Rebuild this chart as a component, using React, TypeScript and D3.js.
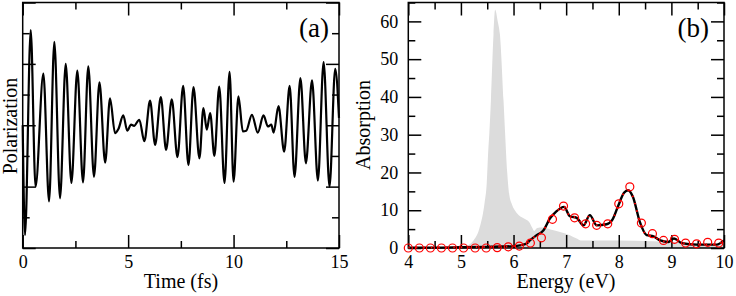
import React, { useEffect, useRef } from "react";
import * as d3 from "d3";

// panel (a): polarization, extrema (time in fs, arbitrary units)
const timeTicks = [0, 5, 10, 15];
const timeMinor = [2.5, 7.5, 12.5];
const polTicks = [-2, -1, 0, 1, 2];
const polMinor = [-1.5, -0.5, 0.5, 1.5];
const polT = [0, 0.11, 0.38, 0.61, 0.98, 1.25, 1.5, 1.77, 2.04, 2.31, 2.59, 2.86, 3.11, 3.38, 3.64, 3.91,
  4.14, 4.38, 4.54, 4.77, 4.96, 5.14, 5.28, 5.53, 5.77, 6.04, 6.28, 6.55, 6.8, 7.07, 7.34, 7.61, 7.86,
  8.1, 8.38, 8.57, 8.73, 8.89, 9.09, 9.32, 9.57, 9.81, 10.0, 10.23, 10.44, 10.6, 10.87, 11.15, 11.42,
  11.63, 11.79, 11.9, 12.13, 12.4, 12.66, 12.89, 13.17, 13.43, 13.72, 14.0, 14.27, 14.55, 14.82, 15.0];
const polV = [0, -1.79, 1.55, -1.0, 0.84, -1.24, 1.36, -1.19, 1.0, -0.94, 0.89, -0.93, 0.96, -0.84, 0.7, -0.61,
  0.44, -0.13, -0.06, 0.16, -0.09, 0.01, -0.01, 0.09, -0.26, 0.4, -0.32, 0.46, -0.4, 0.42, -0.52, 0.64, -0.65,
  0.62, -0.54, 0.28, -0.07, 0.2, -0.5, 0.63, -0.94, 0.87, -0.92, 0.47, -0.1, -0.09, 0.17, -0.12, 0.16,
  -0.02, 0.01, -0.12, 0.31, -0.43, 0.64, -0.84, 0.77, -0.62, 0.73, -0.9, 1.03, -1.0, 0.92, 0.12];

// panel (b): absorption spectra
const energyTicks = [4, 5, 6, 7, 8, 9, 10];
const energyMinor = [4.5, 5.5, 6.5, 7.5, 8.5, 9.5];
const absTicks = [0, 10, 20, 30, 40, 50, 60];
const absMinor = [5, 15, 25, 35, 45, 55, 65];

const shadeE = [4.0, 4.9, 5.05, 5.24, 5.36, 5.45, 5.49, 5.52, 5.54, 5.57, 5.62, 5.65, 5.7, 5.74, 5.81, 5.84,
  5.88, 5.92, 5.97, 6.06, 6.2, 6.3, 6.36, 6.39, 6.45, 6.55, 6.7, 6.9, 7.07, 7.2, 7.28, 7.7, 8.3, 9.0, 9.6, 10.0];
const shadeA = [0, 0, 0.3, 2.0, 5.6, 12, 17, 25.9, 30.3, 39, 56.7, 63.1, 60, 56.7, 39, 30.3,
  20, 14, 11.5, 9.3, 7.8, 6.8, 5.2, 4.5, 5.3, 5.4, 4.9, 4.2, 3.4, 2.5, 2.0, 2.0, 1.9, 1.6, 1.1, 1.0];

const lineE = [4.0, 4.5, 5.0, 5.5, 5.8, 6.0, 6.12, 6.25, 6.31, 6.44, 6.57, 6.69, 6.8, 6.96, 7.07, 7.2, 7.33,
  7.45, 7.58, 7.77, 7.88, 7.99, 8.1, 8.18, 8.27, 8.4, 8.53, 8.66, 8.79, 8.94, 9.05, 9.2, 9.48, 9.86, 10.0];
const lineA = [0.1, 0.1, 0.2, 0.3, 0.4, 0.5, 0.7, 1.2, 2.0, 3.4, 4.7, 7.8, 9.5, 10.9, 8.4, 8.0, 6.0,
  8.7, 6.0, 6.3, 7.5, 11.2, 14.6, 15.3, 13.5, 6.9, 3.4, 3.1, 2.0, 1.6, 2.5, 1.3, 0.9, 0.9, 2.0];

const circE = [4.0, 4.21, 4.42, 4.63, 4.84, 5.05, 5.27, 5.48, 5.69, 5.9, 6.11, 6.32, 6.53, 6.74, 6.95, 7.16,
  7.37, 7.58, 7.79, 8.0, 8.21, 8.43, 8.64, 8.85, 9.06, 9.27, 9.48, 9.69, 9.9];
const circA = [0, 0, 0, 0, 0, 0, 0, 0, 0.1, 0.3, 0.5, 1.3, 2.7, 7.6, 11.1, 8.0,
  6.4, 6.0, 6.4, 11.7, 16.2, 6.6, 3.8, 2.0, 2.3, 1.3, 1.1, 1.5, 1.3];

const font = "'Liberation Serif', 'DejaVu Serif', 'Times New Roman', serif";

function drawAxes(g: any, x: any, y: any, xMaj: number[], xMin: number[], yMaj: number[], yMin: number[],
  xFmt: (d: any) => string, yFmt: (d: any) => string) {
  const [x0, x1] = x.range();
  const [y0, y1] = y.range();
  const none = () => "";
  const put = (axis: any, tr: string, vals: number[], size: number, fmt: any, pad: number) => {
    const a = g.append("g").attr("transform", tr)
      .call(axis.tickValues(vals).tickSize(size).tickSizeOuter(0).tickPadding(pad).tickFormat(fmt));
    a.select(".domain").remove();
    a.selectAll("line").attr("stroke", "#000").attr("stroke-width", 1.5);
    a.attr("font-family", font).attr("font-size", 18);
    a.selectAll("text").attr("fill", "#000");
  };
  put(d3.axisBottom(x), `translate(0,${y0})`, xMaj, -13, xFmt, 7);
  put(d3.axisBottom(x), `translate(0,${y0})`, xMin, -7, none, 7);
  put(d3.axisTop(x), `translate(0,${y1})`, xMaj, -13, none, 8);
  put(d3.axisTop(x), `translate(0,${y1})`, xMin, -7, none, 8);
  put(d3.axisLeft(y), `translate(${x0},0)`, yMaj, -13, yFmt, 10);
  put(d3.axisLeft(y), `translate(${x0},0)`, yMin, -7, none, 10);
  put(d3.axisRight(y), `translate(${x1},0)`, yMaj, -13, none, 10);
  put(d3.axisRight(y), `translate(${x1},0)`, yMin, -7, none, 10);
  g.append("rect").attr("x", x0).attr("y", y1).attr("width", x1 - x0).attr("height", y0 - y1)
    .attr("fill", "none").attr("stroke", "#000").attr("stroke-width", 1.5);
}

function label(g: any, txt: string, x: number, y: number, size: number, anchor: string, rot = false) {
  const t = g.append("text").attr("font-family", font).attr("font-size", size)
    .attr("text-anchor", anchor).attr("fill", "#000").text(txt);
  if (rot) t.attr("transform", `translate(${x},${y}) rotate(-90)`);
  else t.attr("x", x).attr("y", y);
}

export default function App() {
  const ref = useRef<SVGSVGElement>(null);

  useEffect(() => {
    const svg = d3.select(ref.current);
    svg.selectAll("*").remove();

    // (a)
    const xa = d3.scaleLinear().domain([0, 15]).range([22.7, 339]);
    const ya = d3.scaleLinear().domain([-2, 2]).range([248, 2.5]);
    const ga = svg.append("g");
    drawAxes(ga, xa, ya, timeTicks, timeMinor, polTicks, polMinor, (d) => String(d), () => "");
    const pol = d3.line<number>().x((d, i) => xa(polT[i])).y((d) => ya(d)).curve(d3.curveMonotoneX);
    ga.append("path").attr("d", pol(polV)).attr("fill", "none").attr("stroke", "#000").attr("stroke-width", 2.2);
    label(ga, "Time (fs)", 181, 288, 20, "middle");
    label(ga, "Polarization", 16.5, 126, 20, "middle", true);
    label(ga, "(a)", 329, 37, 27, "end");

    // (b)
    const xb = d3.scaleLinear().domain([4, 10]).range([408.3, 724]);
    const yb = d3.scaleLinear().domain([0, 65]).range([248, 2.5]);
    const gb = svg.append("g");
    const shade = d3.area<number>().x((d, i) => xb(shadeE[i])).y0(yb(0)).y1((d) => yb(d)).curve(d3.curveMonotoneX);
    gb.append("path").attr("d", shade(shadeA)).attr("fill", "#dcdcdc");
    drawAxes(gb, xb, yb, energyTicks, energyMinor, absTicks, absMinor, (d) => String(d), (d) => String(d));
    const spec = d3.line<number>().x((d, i) => xb(lineE[i])).y((d) => yb(d)).curve(d3.curveMonotoneX);
    gb.append("path").attr("d", spec(lineA)).attr("fill", "none").attr("stroke", "#000").attr("stroke-width", 2.4);
    gb.append("path").attr("d", spec(lineA)).attr("fill", "none").attr("stroke", "#ff0000")
      .attr("stroke-width", 2).attr("stroke-dasharray", "1.5 6");
    gb.selectAll("circle.pt").data(circA).enter().append("circle").attr("class", "pt")
      .attr("cx", (d, i) => xb(circE[i])).attr("cy", (d) => yb(d)).attr("r", 4)
      .attr("fill", "none").attr("stroke", "#ff0000").attr("stroke-width", 1.2);
    label(gb, "Energy (eV)", 566, 288, 20, "middle");
    label(gb, "Absorption", 370, 125, 20, "middle", true);
    label(gb, "(b)", 709, 37, 27, "end");
  }, []);

  return (
    <svg ref={ref} width={736} height={296}
      style={{ position: "absolute", left: 0, top: 0, background: "#fff" }} />
  );
}
